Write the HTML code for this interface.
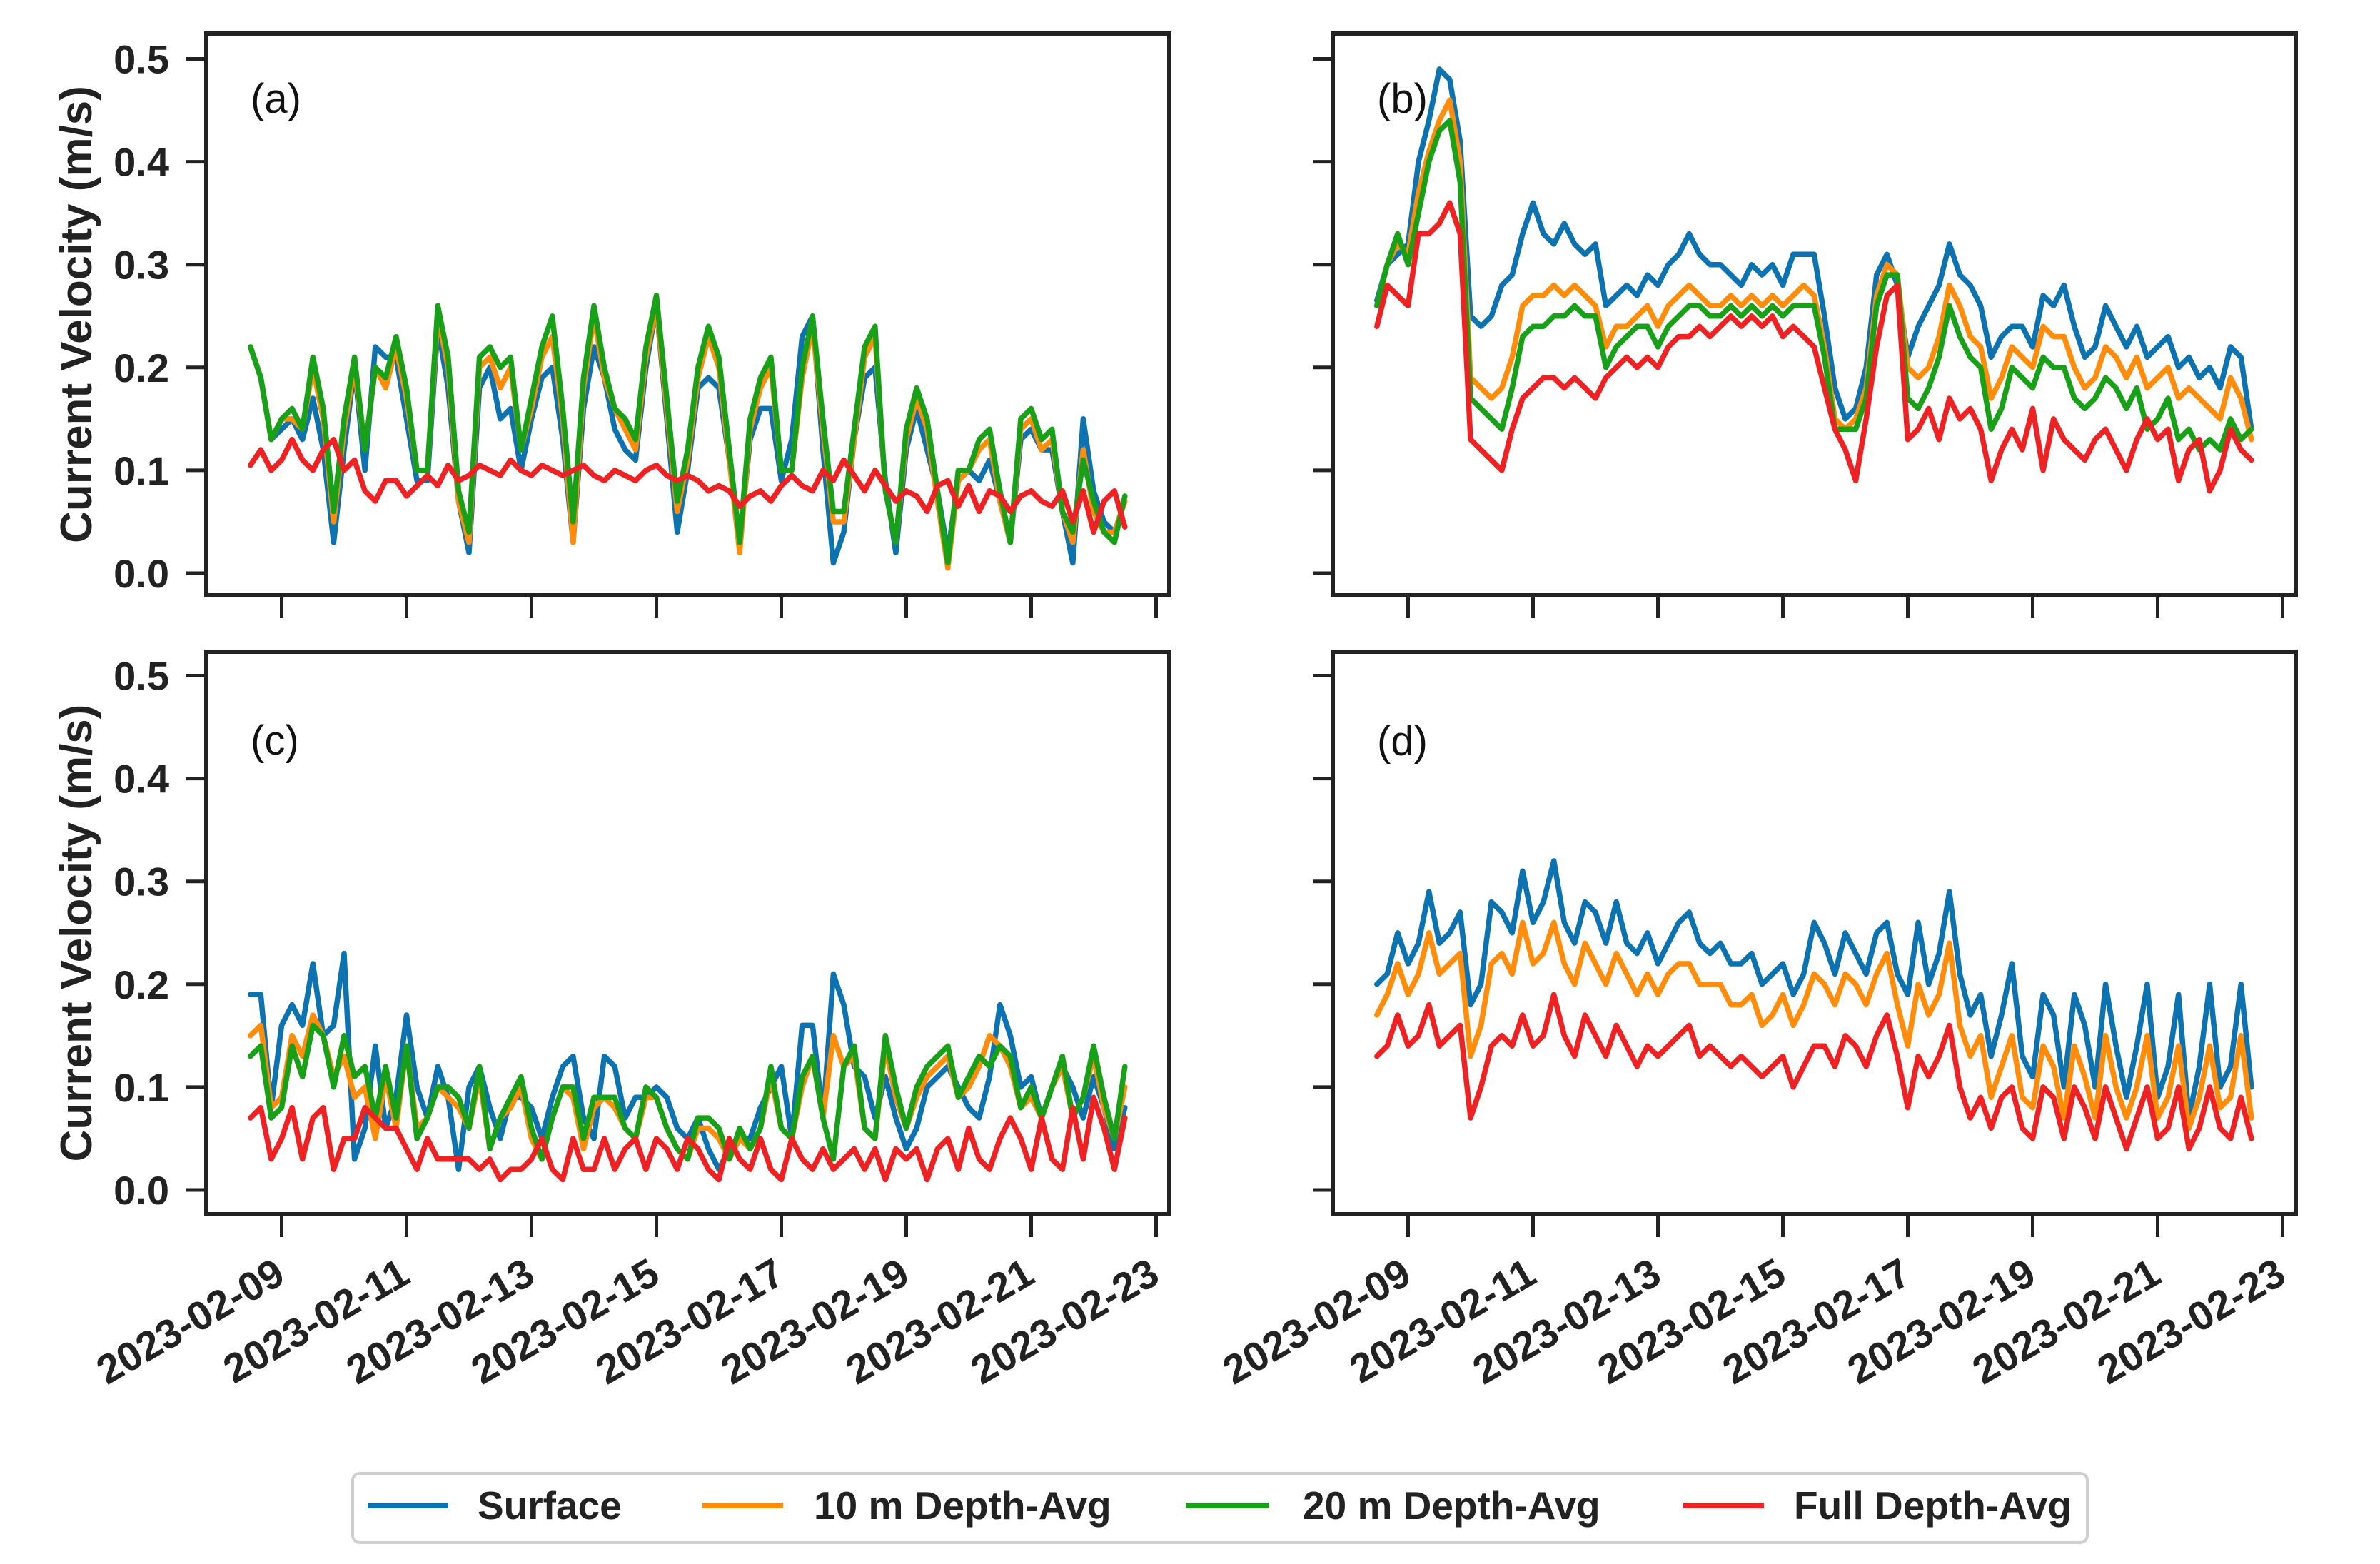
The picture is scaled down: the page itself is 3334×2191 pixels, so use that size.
<!DOCTYPE html>
<html><head><meta charset="utf-8"><style>
html,body{margin:0;padding:0;background:#fff;}
svg{display:block;font-family:"Liberation Sans",Arial,sans-serif;}
</style></head><body>
<svg id="chart" width="3334" height="2191" viewBox="0 0 3334 2191" xmlns="http://www.w3.org/2000/svg">
<rect width="3334" height="2191" fill="#fff"/>
<g id="panels"></g>
<g id="legend">
  <rect x="494" y="2064" width="2430" height="97" rx="10" fill="#fff" stroke="#cfcfcf" stroke-width="4"/>
  <line x1="515" y1="2109" x2="628" y2="2109" stroke="#0C72B0" stroke-width="8"/>
  <text x="669" y="2128" font-size="55" font-weight="bold" fill="#222">Surface</text>
  <line x1="984" y1="2109" x2="1097" y2="2109" stroke="#FF8C0A" stroke-width="8"/>
  <text x="1140" y="2128" font-size="55" font-weight="bold" fill="#222">10 m Depth-Avg</text>
  <line x1="1661" y1="2109" x2="1778" y2="2109" stroke="#18A018" stroke-width="8"/>
  <text x="1825" y="2128" font-size="55" font-weight="bold" fill="#222">20 m Depth-Avg</text>
  <line x1="2358" y1="2109" x2="2471" y2="2109" stroke="#EE2222" stroke-width="8"/>
  <text x="2513" y="2128" font-size="55" font-weight="bold" fill="#222">Full Depth-Avg</text>
</g>
</svg>
<script>
var startDay = 8.5;
var stepDay = 1/6;
var tickDays = [9,11,13,15,17,19,21,23];
var tickLabels = ["2023-02-09","2023-02-11","2023-02-13","2023-02-15","2023-02-17","2023-02-19","2023-02-21","2023-02-23"];
var yTicks = [0.0,0.1,0.2,0.3,0.4,0.5];
var yTickLabels = ["0.0","0.1","0.2","0.3","0.4","0.5"];

var aSurface = [.22,.19,.13,.14,.15,.13,.17,.12,.03,.12, .20,.10,.22,.21,.21,.15,.09,.09,.24,.18, .07,.02,.18,.20,.15,.16,.10,.15,.19,.20, .13,.03,.16,.22,.19,.14,.12,.11,.20,.26, .15,.04,.10,.18,.19,.18,.11,.03,.13,.16, .16,.09,.13,.23,.25,.12,.01,.04,.13,.19, .20,.09,.02,.12,.16,.12,.08,.02,.09,.10, .09,.11,.07,.03,.13,.14,.12,.12,.06,.01, .15,.08,.05,.04,.07];
var aTen = [.22,.19,.13,.15,.15,.14,.20,.15,.05,.14, .20,.12,.20,.18,.22,.17,.10,.10,.25,.20, .07,.03,.20,.21,.18,.20,.12,.16,.21,.23, .15,.03,.18,.25,.19,.16,.14,.12,.21,.26, .16,.06,.11,.19,.23,.20,.11,.02,.14,.18, .20,.10,.10,.19,.24,.14,.05,.05,.13,.21, .23,.08,.03,.13,.17,.14,.07,.005,.09,.10, .12,.13,.07,.03,.14,.15,.12,.13,.06,.03, .12,.06,.04,.04,.07];
var aTwenty = [.22,.19,.13,.15,.16,.14,.21,.16,.06,.15, .21,.12,.20,.19,.23,.18,.10,.10,.26,.21, .08,.04,.21,.22,.20,.21,.12,.17,.22,.25, .16,.05,.19,.26,.20,.16,.15,.13,.22,.27, .17,.07,.12,.20,.24,.21,.12,.03,.15,.19, .21,.10,.10,.20,.25,.15,.06,.06,.14,.22, .24,.08,.03,.14,.18,.15,.08,.01,.10,.10, .13,.14,.08,.03,.15,.16,.13,.14,.06,.04, .11,.07,.04,.03,.075];
var aFull = [.105,.12,.10,.11,.13,.11,.10,.12,.13,.10, .11,.08,.07,.09,.09,.075,.085,.095,.085,.105, .09,.095,.105,.10,.095,.11,.10,.095,.105,.10, .095,.10,.105,.095,.09,.10,.095,.09,.10,.105, .095,.09,.095,.09,.08,.085,.08,.065,.075,.08, .07,.085,.095,.085,.08,.10,.09,.11,.095,.08, .10,.085,.07,.08,.075,.06,.085,.09,.065,.085, .06,.08,.075,.06,.075,.08,.07,.065,.08,.05, .08,.04,.07,.08,.045];

var bSurface = [.265,.30,.31,.32,.40,.44,.49,.48,.42,.25, .24,.25,.28,.29,.33,.36,.33,.32,.34,.32, .31,.32,.26,.27,.28,.27,.29,.28,.30,.31, .33,.31,.30,.30,.29,.28,.30,.29,.30,.28, .31,.31,.31,.25,.18,.15,.16,.20,.29,.31, .28,.21,.24,.26,.28,.32,.29,.28,.26,.21, .23,.24,.24,.22,.27,.26,.28,.24,.21,.22, .26,.24,.22,.24,.21,.22,.23,.20,.21,.19, .20,.18,.22,.21,.14];
var bTen = [.26,.30,.32,.31,.37,.41,.44,.46,.40,.19, .18,.17,.18,.21,.26,.27,.27,.28,.27,.28, .27,.26,.22,.24,.24,.25,.26,.24,.26,.27, .28,.27,.26,.26,.27,.26,.27,.26,.27,.26, .27,.28,.27,.22,.15,.14,.15,.18,.27,.30, .29,.20,.19,.20,.23,.28,.26,.23,.22,.17, .19,.22,.21,.20,.24,.23,.23,.20,.18,.19, .22,.21,.19,.21,.18,.19,.20,.17,.18,.17, .16,.15,.19,.17,.13];
var bTwenty = [.26,.30,.33,.30,.35,.40,.43,.44,.38,.17, .16,.15,.14,.18,.23,.24,.24,.25,.25,.26, .25,.25,.20,.22,.23,.24,.24,.22,.24,.25, .26,.26,.25,.25,.26,.25,.26,.25,.26,.25, .26,.26,.26,.21,.14,.14,.14,.17,.26,.29, .29,.17,.16,.18,.21,.26,.23,.21,.20,.14, .16,.20,.19,.18,.21,.20,.20,.17,.16,.17, .19,.18,.16,.18,.14,.15,.17,.13,.14,.12, .13,.12,.15,.13,.14];
var bFull = [.24,.28,.27,.26,.33,.33,.34,.36,.33,.13, .12,.11,.10,.14,.17,.18,.19,.19,.18,.19, .18,.17,.19,.20,.21,.20,.21,.20,.22,.23, .23,.24,.23,.24,.25,.24,.25,.24,.25,.23, .24,.23,.22,.18,.14,.12,.09,.15,.22,.27, .28,.13,.14,.16,.13,.17,.15,.16,.14,.09, .12,.14,.12,.16,.10,.15,.13,.12,.11,.13, .14,.12,.10,.13,.15,.13,.14,.09,.12,.13, .08,.10,.14,.12,.11];

var cSurface = [.19,.19,.08,.16,.18,.16,.22,.15,.16,.23, .03,.06,.14,.06,.09,.17,.10,.07,.12,.09, .02,.10,.12,.08,.05,.09,.09,.08,.05,.09, .12,.13,.07,.05,.13,.12,.07,.09,.09,.10, .09,.06,.05,.07,.04,.02,.04,.05,.05,.08, .10,.12,.05,.16,.16,.07,.21,.18,.12,.11, .07,.11,.07,.04,.06,.10,.11,.12,.10,.08, .07,.11,.18,.15,.10,.11,.07,.10,.12,.10, .07,.11,.08,.04,.08];
var cTen = [.15,.16,.08,.09,.15,.13,.17,.15,.11,.13, .09,.10,.05,.11,.06,.14,.06,.07,.10,.09, .08,.06,.11,.04,.07,.08,.10,.05,.03,.07, .10,.09,.04,.08,.09,.08,.06,.05,.09,.09, .06,.04,.03,.06,.06,.05,.03,.05,.04,.06, .11,.06,.05,.10,.13,.07,.15,.12,.13,.06, .05,.14,.09,.06,.09,.11,.12,.13,.09,.10, .12,.15,.14,.12,.08,.09,.07,.10,.12,.07, .09,.13,.08,.05,.10];
var cTwenty = [.13,.14,.07,.08,.14,.11,.16,.15,.10,.15, .11,.12,.07,.12,.07,.14,.05,.07,.10,.10, .09,.06,.12,.04,.07,.09,.11,.06,.03,.07, .10,.10,.05,.09,.09,.09,.06,.05,.10,.09, .06,.04,.03,.07,.07,.06,.03,.06,.04,.06, .12,.06,.05,.11,.13,.07,.03,.12,.14,.06, .05,.15,.10,.06,.10,.12,.13,.14,.09,.11, .13,.12,.14,.13,.08,.10,.07,.10,.13,.07, .09,.14,.09,.05,.12];
var cFull = [.07,.08,.03,.05,.08,.03,.07,.08,.02,.05, .05,.08,.07,.06,.06,.04,.02,.05,.03,.03, .03,.03,.02,.03,.01,.02,.02,.03,.05,.02, .01,.05,.02,.02,.05,.02,.04,.05,.02,.05, .04,.02,.05,.04,.02,.01,.05,.03,.02,.05, .02,.01,.05,.03,.02,.04,.02,.03,.04,.02, .04,.01,.04,.03,.04,.01,.04,.05,.02,.06, .03,.02,.05,.07,.05,.02,.07,.03,.02,.08, .03,.09,.06,.02,.07];

var dSurface = [.20,.21,.25,.22,.24,.29,.24,.25,.27,.18, .20,.28,.27,.25,.31,.26,.28,.32,.26,.24, .28,.27,.24,.28,.24,.23,.25,.22,.24,.26, .27,.24,.23,.24,.22,.22,.23,.20,.21,.22, .19,.21,.26,.24,.21,.25,.23,.21,.25,.26, .21,.19,.26,.20,.23,.29,.21,.17,.19,.13, .17,.22,.13,.11,.19,.17,.10,.19,.16,.10, .20,.14,.09,.14,.20,.09,.12,.19,.07,.12, .20,.10,.12,.20,.10];
var dTen = [.17,.19,.22,.19,.21,.25,.21,.22,.23,.13, .16,.22,.23,.21,.26,.22,.23,.26,.22,.20, .24,.22,.20,.23,.21,.19,.21,.19,.21,.22, .22,.20,.20,.20,.18,.18,.19,.16,.17,.19, .16,.18,.21,.20,.18,.21,.20,.18,.21,.23, .18,.14,.20,.17,.19,.24,.16,.13,.15,.09, .12,.15,.09,.08,.14,.12,.07,.14,.11,.07, .15,.10,.07,.10,.15,.07,.09,.14,.06,.09, .14,.08,.09,.15,.07];
var dFull = [.13,.14,.17,.14,.15,.18,.14,.15,.16,.07, .10,.14,.15,.14,.17,.14,.15,.19,.15,.13, .17,.15,.13,.16,.14,.12,.14,.13,.14,.15, .16,.13,.14,.13,.12,.13,.12,.11,.12,.13, .10,.12,.14,.14,.12,.15,.14,.12,.15,.17, .13,.08,.13,.11,.13,.16,.10,.07,.09,.06, .09,.10,.06,.05,.10,.09,.05,.10,.08,.05, .10,.07,.04,.07,.10,.05,.06,.10,.04,.06, .10,.06,.05,.09,.05];

var COLOR_SURF = "#0C72B0", COLOR_10 = "#FF8C0A", COLOR_20 = "#18A018", COLOR_FULL = "#EE2222";
var SVGNS = "http://www.w3.org/2000/svg";
var panelsG = document.getElementById("panels");

function mk(tag, attrs, parent){
  var e = document.createElementNS(SVGNS, tag);
  for (var k in attrs) e.setAttribute(k, attrs[k]);
  parent.appendChild(e);
  return e;
}

function drawPanel(id, left, top, right, bottom, y0, label, labelBaseline, showYLabels, showXLabels, seriesList){
  var g = mk("g", {}, panelsG);
  
  
  var xDay9 = left + 105.5, pxDay = 87.5, pxUnit = 1441;
  var X = function(d){ return xDay9 + (d - 9) * pxDay; };
  var Y = function(v){ return y0 - v * pxUnit; };
  for (var si = 0; si < seriesList.length; si++){
    var s = seriesList[si];
    var pts = [];
    for (var i = 0; i < s.vals.length; i++) pts.push(X(startDay + i * stepDay).toFixed(1) + "," + Y(s.vals[i]).toFixed(1));
    var pl = mk("polyline", {points: pts.join(" "), fill: "none", stroke: s.color, "stroke-width": 7.5, "stroke-linejoin": "round", "stroke-linecap": "round"}, g);
    
    
  }
  var fr = mk("rect", {x: left, y: top, width: right - left, height: bottom - top, fill: "none", stroke: "#222", "stroke-width": 6}, g);
  
  
  for (var j = 0; j < yTicks.length; j++){
    var yy = Y(yTicks[j]);
    var t = mk("line", {x1: left - 28, x2: left, y1: yy, y2: yy, stroke: "#222", "stroke-width": 5}, g);
    
    
    if (showYLabels){
      var tx = mk("text", {x: left - 52, y: yy + 20, "text-anchor": "end", "font-size": 56, "font-weight": "bold", fill: "#222"}, g);
      tx.textContent = yTickLabels[j];
      
      
    }
  }
  for (var k = 0; k < tickDays.length; k++){
    var xx = X(tickDays[k]);
    var t2 = mk("line", {x1: xx, x2: xx, y1: bottom, y2: bottom + 32, stroke: "#222", "stroke-width": 5}, g);
    
    
    if (showXLabels){
      var ax = xx + 8, ay = bottom + 94;
      var tx2 = mk("text", {x: 0, y: 0, transform: "translate(" + ax + "," + ay + ") rotate(-30)", "text-anchor": "end", "font-size": 57, "font-weight": "bold", fill: "#222"}, g);
      tx2.textContent = tickLabels[k];
      
      
    }
  }
  if (showYLabels){
    var cy = (top + bottom) / 2;
    var yt = mk("text", {x: 0, y: 0, transform: "translate(128," + cy + ") rotate(-90)", "text-anchor": "middle", "font-size": 62, "font-weight": "bold", fill: "#222"}, g);
    yt.textContent = "Current Velocity (m/s)";
    
    
  }
  var lb = mk("text", {x: left + 62, y: labelBaseline, "font-size": 58, fill: "#111"}, g);
  lb.textContent = label;
  
  
}

function S(name, color, vals){ return {name: name, color: color, vals: vals}; }

try { drawPanel("a", 289, 47, 1638, 834, 803, "(a)", 158, true, false, [S("surface", COLOR_SURF, aSurface), S("10m", COLOR_10, aTen), S("20m", COLOR_20, aTwenty), S("full", COLOR_FULL, aFull)]); } catch(e) {}
try { drawPanel("b", 1867, 47, 3216, 834, 803, "(b)", 158, false, false, [S("surface", COLOR_SURF, bSurface), S("10m", COLOR_10, bTen), S("20m", COLOR_20, bTwenty), S("full", COLOR_FULL, bFull)]); } catch(e) {}
try { drawPanel("c", 289, 913, 1638, 1701, 1667, "(c)", 1057, true, true, [S("surface", COLOR_SURF, cSurface), S("10m", COLOR_10, cTen), S("20m", COLOR_20, cTwenty), S("full", COLOR_FULL, cFull)]); } catch(e) {}
try { drawPanel("d", 1867, 913, 3216, 1701, 1667, "(d)", 1058, false, true, [S("surface", COLOR_SURF, dSurface), S("10m", COLOR_10, dTen), S("full", COLOR_FULL, dFull)]); } catch(e) {}
</script>
</body></html>
